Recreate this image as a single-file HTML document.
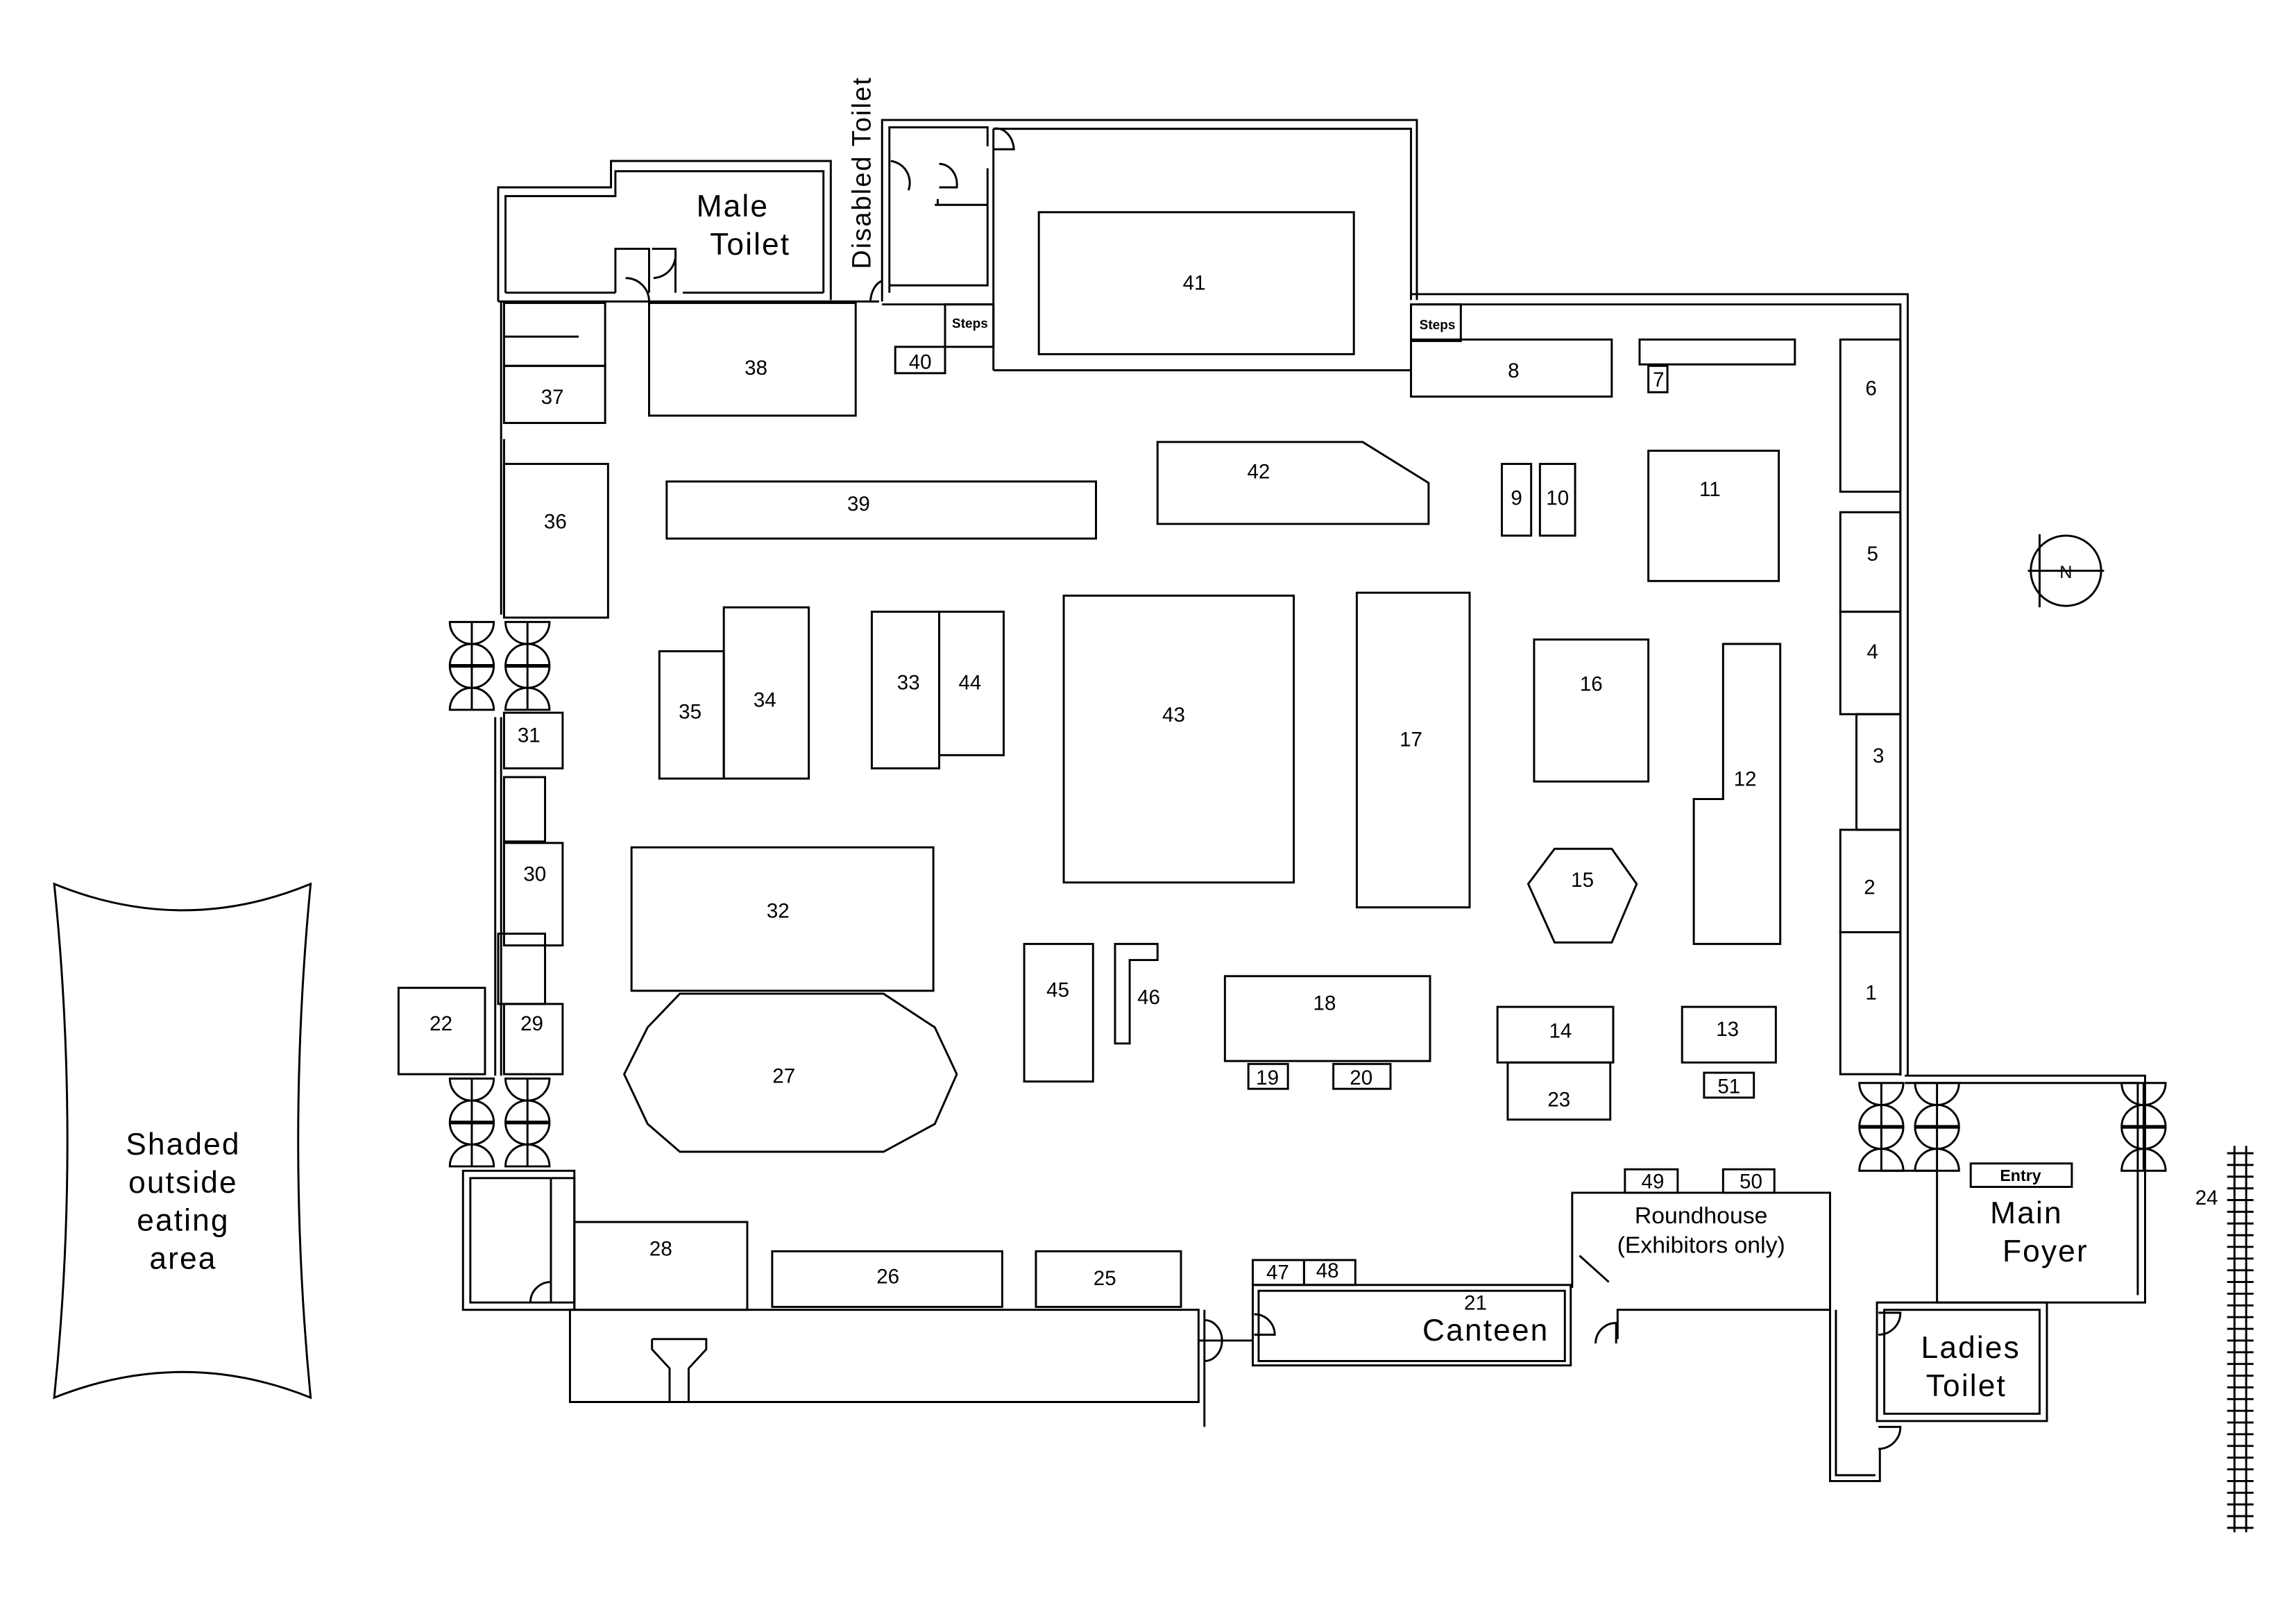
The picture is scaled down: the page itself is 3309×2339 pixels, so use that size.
<!DOCTYPE html>
<html><head><meta charset="utf-8"><style>
html,body{margin:0;padding:0;background:#fff}
svg{display:block}
text{font-family:"Liberation Sans",sans-serif;fill:#000}
.n{font-size:14px;text-anchor:middle}
.b{font-size:21px;text-anchor:middle;letter-spacing:1px}
</style></head><body>
<svg width="3309" height="2339" viewBox="0 0 1567 1109" preserveAspectRatio="none" xmlns="http://www.w3.org/2000/svg">
<defs>
<g id="dd" fill="none" stroke="#000" stroke-width="1.4">
<path d="M-15,0 A15,15 0 0 0 15,0 Z"/>
<circle cx="0" cy="30" r="15"/>
<path d="M-15,60 A15,15 0 0 1 15,60 Z"/>
<line x1="0" y1="0" x2="0" y2="60"/>
<line x1="-15" y1="30" x2="15" y2="30" stroke-width="2.5"/>
</g>
</defs>
<g fill="none" stroke="#000" stroke-width="1.4">
<path d="M340,206 V128 H417 V110 H567 V205"/>
<path d="M345,200 V134 H420 V117 H562 V200"/>
<line x1="340" y1="206" x2="600" y2="206"/>
<line x1="345" y1="200" x2="420" y2="200"/>
<line x1="466" y1="200" x2="562" y2="200"/>
<path d="M420,200 V170 H443 V200"/><path d="M445,170 H461 V200"/>
<path d="M427,190 A16,16 0 0 1 443,206"/><path d="M446,190 A16,16 0 0 0 461,172"/>
<path d="M602,206 V82 H967 V205"/>
<path d="M607,200 V87 H674 V100"/>
<path d="M674,115 V195 H607"/>
<path d="M638,140 H674"/><path d="M640,140 V136"/>
<path d="M608,110 A15,15 0 0 1 620,130"/>
<path d="M641,112 A12,14 0 0 1 653,128 H641"/>
<path d="M594,206 A10,16 0 0 1 602,192"/>
<path d="M678,88 A12,16 0 0 1 692,102 H678"/>
<path d="M678,88 H963 V205"/>
<line x1="678" y1="88" x2="678" y2="253"/>
<line x1="678" y1="253" x2="963" y2="253"/>
<rect x="709" y="145" width="215" height="97"/>
<line x1="602" y1="208" x2="678" y2="208"/>
<path d="M963,201 H1302 V735"/>
<path d="M967,208 H1297 V735"/>
<rect x="645" y="208" width="33" height="29"/>
<rect x="611" y="237" width="34" height="18"/>
<rect x="963" y="208" width="34" height="25"/>
<rect x="963" y="232" width="137" height="39"/>
<rect x="1119" y="232" width="106" height="17"/>
<rect x="1125" y="250" width="13" height="18"/>
<rect x="1256" y="232" width="41" height="104"/>
<rect x="1256" y="350" width="41" height="68"/>
<rect x="1256" y="418" width="41" height="70"/>
<rect x="1267" y="488" width="30" height="79"/>
<rect x="1256" y="567" width="41" height="70"/>
<rect x="1256" y="637" width="41" height="97"/>
<rect x="344" y="207" width="69" height="43"/><line x1="344" y1="230" x2="395" y2="230"/>
<rect x="344" y="250" width="69" height="39"/>
<rect x="443" y="207" width="141" height="77"/>
<line x1="342" y1="206" x2="342" y2="420"/><line x1="344" y1="420" x2="344" y2="300"/>
<rect x="344" y="317" width="71" height="105"/>
<line x1="338" y1="490" x2="338" y2="735"/><line x1="342" y1="490" x2="342" y2="735"/>
<rect x="344" y="487" width="40" height="38"/>
<rect x="344" y="531" width="28" height="44"/>
<rect x="344" y="576" width="40" height="70"/>
<rect x="340" y="638" width="32" height="48"/>
<rect x="344" y="686" width="40" height="48"/>
<rect x="272" y="675" width="59" height="59"/>
<use href="#dd" x="322" y="425"/><use href="#dd" x="360" y="425"/>
<use href="#dd" x="322" y="737"/><use href="#dd" x="360" y="737"/>
<rect x="316" y="800" width="76" height="95"/><rect x="321" y="805" width="71" height="85"/>
<line x1="376" y1="805" x2="376" y2="890"/>
<path d="M376,876 A14,14 0 0 0 362,890"/>
<rect x="455" y="329" width="293" height="39"/>
<path d="M790,302 H930 L975,330 V358 H790 Z"/>
<rect x="1025" y="317" width="20" height="49"/>
<rect x="1051" y="317" width="24" height="49"/>
<rect x="1125" y="308" width="89" height="89"/>
<rect x="450" y="445" width="44" height="87"/>
<rect x="494" y="415" width="58" height="117"/>
<rect x="595" y="418" width="46" height="107"/>
<rect x="641" y="418" width="44" height="98"/>
<rect x="726" y="407" width="157" height="196"/>
<rect x="926" y="405" width="77" height="215"/>
<rect x="1047" y="437" width="78" height="97"/>
<path d="M1176,440 H1215 V645 H1156 V546 H1176 Z"/>
<path d="M1043,604 L1061,580 H1100 L1117,604 L1100,644 H1061 Z"/>
<rect x="431" y="579" width="206" height="98"/>
<path d="M464,679 H603 L638,702 L653,734 L638,768 L603,787 H464 L442,768 L426,734 L442,702 Z"/>
<rect x="699" y="645" width="47" height="94"/>
<path d="M761,645 H790 V656 H771 V713 H761 Z"/>
<rect x="836" y="667" width="140" height="58"/>
<rect x="852" y="727" width="27" height="17"/>
<rect x="910" y="727" width="39" height="17"/>
<rect x="1022" y="688" width="79" height="38"/>
<rect x="1029" y="726" width="70" height="39"/>
<rect x="1148" y="688" width="64" height="38"/>
<rect x="1163" y="733" width="34" height="17"/>
<rect x="1109" y="799" width="36" height="16"/>
<rect x="1176" y="799" width="35" height="16"/>
<path d="M1073,880 V815 H1249 V895 H1104 V915"/>
<line x1="1078" y1="858" x2="1098" y2="876"/>
<rect x="392" y="835" width="118" height="60"/>
<rect x="527" y="855" width="157" height="38"/>
<rect x="707" y="855" width="99" height="38"/>
<path d="M389,895 H818 V958 H389 Z"/>
<path d="M822,895 V975"/>
<path d="M445,915 H482 V922 L470,935 V958 M445,915 V922 L457,935 V958"/>
<path d="M822,902 A12,14 0 0 1 822,930"/><line x1="818" y1="916" x2="855" y2="916"/>
<rect x="855" y="861" width="35" height="17"/><rect x="890" y="861" width="35" height="17"/>
<rect x="855" y="878" width="217" height="55"/><rect x="859" y="882" width="209" height="48"/>
<path d="M856,898 A14,14 0 0 1 870,912 H856"/>
<path d="M1089,918 A14,14 0 0 1 1103,904 V918"/>
<path d="M1300,735 H1464 V890 H1322 V800 H1283"/>
<path d="M1300,740 H1459 V885"/>
<use href="#dd" x="1284" y="740"/><use href="#dd" x="1322" y="740"/><use href="#dd" x="1463" y="740"/>
<rect x="1345" y="795" width="69" height="16"/>
<path d="M1281,890 H1397 V971 H1281 Z"/><rect x="1286" y="895" width="106" height="71"/>
<path d="M1282,897 H1297 A15,15 0 0 1 1282,912"/>
<path d="M1282,975 H1297 A15,15 0 0 1 1282,990"/>
<path d="M1249,895 V1012 H1283 V990"/><path d="M1253,895 V1008 H1280"/>
<path d="M37,604 Q125,640 212,604 Q195,780 212,955 Q125,920 37,955 Q55,780 37,604 Z"/>
<circle cx="1410" cy="390" r="24"/><line x1="1384" y1="390" x2="1436" y2="390"/><line x1="1392" y1="365" x2="1392" y2="415"/>
</g>
<g stroke="#000" stroke-width="1.4">
<line x1="1525" y1="783" x2="1525" y2="1047"/><line x1="1533" y1="783" x2="1533" y2="1047"/>
<path d="M1520,788H1538M1520,796H1538M1520,804H1538M1520,812H1538M1520,820H1538M1520,828H1538M1520,836H1538M1520,844H1538M1520,852H1538M1520,860H1538M1520,868H1538M1520,876H1538M1520,884H1538M1520,892H1538M1520,900H1538M1520,908H1538M1520,916H1538M1520,924H1538M1520,932H1538M1520,940H1538M1520,948H1538M1520,956H1538M1520,964H1538M1520,972H1538M1520,980H1538M1520,988H1538M1520,996H1538M1520,1004H1538M1520,1012H1538M1520,1020H1538M1520,1028H1538M1520,1036H1538M1520,1044H1538"/>
</g>
<text class="b" x="500" y="148">Male</text><text class="b" x="512" y="174">Toilet</text>
<text class="b" x="594" y="118" transform="rotate(-90 594 118)" style="font-size:18px">Disabled Toilet</text>
<text class="n" x="1410" y="395" style="font-size:12px">N</text>
<text class="n" x="662" y="224" style="font-size:9px;font-weight:bold">Steps</text>
<text class="n" x="981" y="225" style="font-size:9px;font-weight:bold">Steps</text>
<text class="n" x="815" y="198">41</text><text class="n" x="1033" y="258">8</text><text class="n" x="1132" y="264">7</text>
<text class="n" x="628" y="252">40</text><text class="n" x="516" y="256">38</text><text class="n" x="377" y="276">37</text>
<text class="n" x="1277" y="270">6</text><text class="n" x="1278" y="383">5</text><text class="n" x="1278" y="450">4</text>
<text class="n" x="1282" y="521">3</text><text class="n" x="1276" y="611">2</text><text class="n" x="1277" y="683">1</text>
<text class="n" x="379" y="361">36</text><text class="n" x="586" y="349">39</text><text class="n" x="859" y="327">42</text>
<text class="n" x="1035" y="345">9</text><text class="n" x="1063" y="345">10</text><text class="n" x="1167" y="339">11</text>
<text class="n" x="471" y="491">35</text><text class="n" x="522" y="483">34</text><text class="n" x="620" y="471">33</text><text class="n" x="662" y="471">44</text>
<text class="n" x="801" y="493">43</text><text class="n" x="963" y="510">17</text><text class="n" x="1086" y="472">16</text>
<text class="n" x="1191" y="537">12</text><text class="n" x="1080" y="606">15</text><text class="n" x="361" y="507">31</text>
<text class="n" x="365" y="602">30</text><text class="n" x="531" y="627">32</text><text class="n" x="301" y="704">22</text><text class="n" x="363" y="704">29</text>
<text class="n" x="535" y="740">27</text><text class="n" x="722" y="681">45</text><text class="n" x="784" y="686">46</text>
<text class="n" x="904" y="690">18</text><text class="n" x="865" y="741">19</text><text class="n" x="929" y="741">20</text>
<text class="n" x="1065" y="709">14</text><text class="n" x="1064" y="756">23</text><text class="n" x="1179" y="708">13</text><text class="n" x="1180" y="747">51</text>
<text class="n" x="1128" y="812">49</text><text class="n" x="1195" y="812">50</text>
<text class="n" x="1161" y="836" style="font-size:16px">Roundhouse</text>
<text class="n" x="1161" y="856" style="font-size:16px">(Exhibitors only)</text>
<text class="n" x="451" y="858">28</text><text class="n" x="606" y="877">26</text><text class="n" x="754" y="878">25</text>
<text class="n" x="872" y="874">47</text><text class="n" x="906" y="873">48</text><text class="n" x="1007" y="895">21</text>
<text class="b" x="1014" y="916">Canteen</text>
<text class="n" x="1379" y="807" style="font-size:11px;font-weight:bold">Entry</text>
<text class="b" x="1383" y="836">Main</text><text class="b" x="1396" y="862">Foyer</text>
<text class="b" x="1345" y="928">Ladies</text><text class="b" x="1342" y="954">Toilet</text>
<text class="n" x="1506" y="823">24</text>
<text class="b" x="125" y="789">Shaded</text><text class="b" x="125" y="815">outside</text>
<text class="b" x="125" y="841">eating</text><text class="b" x="125" y="867">area</text>
</svg>
</body></html>
